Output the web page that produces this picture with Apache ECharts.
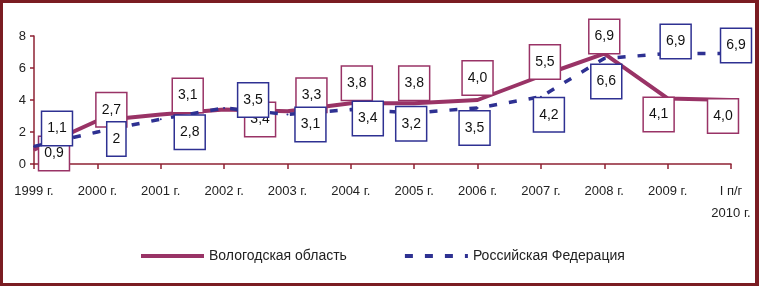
<!DOCTYPE html>
<html>
<head>
<meta charset="utf-8">
<script src="https://cdn.jsdelivr.net/npm/echarts@6/dist/echarts.min.js"></script>
<style>
  html, body { margin: 0; padding: 0; background: #fff; }
  #chart {
    width: 759px;
    height: 286px;
    box-sizing: border-box;
    border: 3px solid #7a1c22;
    border-right-width: 4px;
    background: #fff;
  }
</style>
</head>
<body>
<div id="chart"></div>
<script>
const categories = ['1999 г.', '2000 г.', '2001 г.', '2002 г.', '2003 г.', '2004 г.', '2005 г.',
  '2006 г.', '2007 г.', '2008 г.', '2009 г.', 'I п/г\n2010 г.']
const vologdaValues = [0.9, 2.7, 3.1, 3.4, 3.3, 3.8, 3.8, 4.0, 5.5, 6.9, 4.1, 4.0]
const russiaValues = [1.1, 2, 2.8, 3.5, 3.1, 3.4, 3.2, 3.5, 4.2, 6.6, 6.9, 6.9]
const yTicks = [0, 2, 4, 6, 8]

// where each value box sits relative to its point (px)
const vologdaOffsets = [[20, 4], [14, -11], [27, -19], [36, 10], [24, -16], [6, -20],
  [0, -20], [0, -22], [4, -14], [0, -17], [-9, 16], [-8, 16]]
const russiaOffsets = [[23, -18], [19, 7], [29, 13], [29, -8], [23, 10], [17, 9],
  [-3, 11], [-3, 20], [8, 18], [2, 23], [8, -12], [5, -8]]

const FONT = "'Liberation Sans Narrow', 'Liberation Sans', sans-serif"
const VOL_COLOR = '#993366'
const RUS_COLOR = '#2e3192'
const AXIS_COLOR = '#8e2233'

// Vologda labels always show one decimal, Russia labels as typed in the source
const fmtFixed = v => v.toFixed(1).replace('.', ',')
const fmtPlain = v => String(v).replace('.', ',')

const buildData = (values, offsets, color, fmt) => values.map((v, i) => ({
  value: v,
  label: {
    show: true,
    position: 'inside',
    offset: offsets[i],
    formatter: p => fmt(p.value),
    color: '#111',
    fontFamily: FONT,
    fontSize: 14,
    backgroundColor: '#fff',
    borderColor: color,
    borderWidth: 1.5,
    padding: [10, 5, 9, 5]
  }
}))

const chart = echarts.init(document.getElementById('chart'))

chart.setOption({
  animation: false,
  grid: { left: 31, right: 24, top: 33, bottom: 119 },
  legend: {
    left: 131,
    top: 241,
    itemWidth: 63,
    itemHeight: 14,
    itemGap: 56,
    itemStyle: { opacity: 0 },
    textStyle: { fontFamily: FONT, fontSize: 14, color: '#222' },
    data: [
      { name: 'Вологодская область', lineStyle: { width: 4 } },
      { name: 'Российская Федерация', lineStyle: { width: 4 } }
    ]
  },
  xAxis: {
    type: 'category',
    data: categories,
    boundaryGap: false,
    axisLine: { lineStyle: { color: AXIS_COLOR, width: 1.5 } },
    axisTick: { show: true, length: 5, lineStyle: { color: AXIS_COLOR, width: 1.5 } },
    axisLabel: {
      interval: 0,
      margin: 16,
      color: '#222',
      fontFamily: FONT,
      fontSize: 13,
      lineHeight: 22
    }
  },
  yAxis: {
    type: 'value',
    min: yTicks[0],
    max: yTicks[yTicks.length - 1],
    interval: yTicks[1] - yTicks[0],
    splitLine: { show: false },
    axisLine: { show: true, lineStyle: { color: AXIS_COLOR, width: 1.5 } },
    axisTick: { show: true, length: 4, lineStyle: { color: AXIS_COLOR, width: 1.5 } },
    axisLabel: { margin: 8, color: '#222', fontFamily: FONT, fontSize: 13 }
  },
  series: [
    {
      name: 'Вологодская область',
      type: 'line',
      data: buildData(vologdaValues, vologdaOffsets, VOL_COLOR, fmtFixed),
      symbol: 'circle',
      symbolSize: 2,
      itemStyle: { color: VOL_COLOR },
      lineStyle: { color: VOL_COLOR, width: 4 },
      z: 2
    },
    {
      name: 'Российская Федерация',
      type: 'line',
      data: buildData(russiaValues, russiaOffsets, RUS_COLOR, fmtPlain),
      symbol: 'circle',
      symbolSize: 2,
      itemStyle: { color: RUS_COLOR },
      lineStyle: { color: RUS_COLOR, width: 3.5, type: [8, 12] },
      z: 3
    }
  ]
})
</script>
</body>
</html>
